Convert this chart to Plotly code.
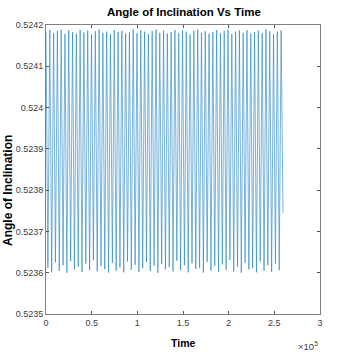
import plotly.graph_objects as go

# ---- data ----
peaks = [0.524184, 0.524188, 0.524180, 0.524186, 0.524189, 0.524178, 0.524187, 0.524183,
         0.524179, 0.524188, 0.524182, 0.524186, 0.524177, 0.524185, 0.524189, 0.524181,
         0.524184, 0.524178, 0.524188, 0.524183, 0.524186, 0.524179, 0.524182, 0.524189,
         0.524180, 0.524187, 0.524184, 0.524178, 0.524185, 0.524189, 0.524181, 0.524186,
         0.524179, 0.524183, 0.524188, 0.524180, 0.524187, 0.524184, 0.524177, 0.524186,
         0.524189, 0.524181, 0.524185, 0.524179, 0.524183, 0.524188, 0.524180, 0.524186,
         0.524189, 0.524178, 0.524184, 0.524187, 0.524181, 0.524188, 0.524179, 0.524183,
         0.524186, 0.524180, 0.524189, 0.524185, 0.524178, 0.524184, 0.524187]
troughs = [0.523612, 0.523601, 0.523625, 0.523605, 0.523618, 0.523600, 0.523628, 0.523608,
           0.523615, 0.523602, 0.523622, 0.523606, 0.523630, 0.523603, 0.523616, 0.523609,
           0.523600, 0.523624, 0.523605, 0.523613, 0.523601, 0.523627, 0.523607, 0.523619,
           0.523602, 0.523611, 0.523626, 0.523604, 0.523617, 0.523600, 0.523621, 0.523608,
           0.523614, 0.523603, 0.523629, 0.523606, 0.523618, 0.523601, 0.523623, 0.523609,
           0.523612, 0.523600, 0.523626, 0.523605, 0.523616, 0.523602, 0.523620, 0.523607,
           0.523631, 0.523603, 0.523614, 0.523600, 0.523624, 0.523608, 0.523611, 0.523601,
           0.523627, 0.523605, 0.523618, 0.523602, 0.523622, 0.523606]
end_value = 0.523745
t_end = 2.595e5

y_ticks = [0.5235, 0.5236, 0.5237, 0.5238, 0.5239, 0.524, 0.5241, 0.5242]
y_tick_labels = ["0.5235", "0.5236", "0.5237", "0.5238", "0.5239", "0.524", "0.5241", "0.5242"]
x_ticks = [0, 0.5e5, 1e5, 1.5e5, 2e5, 2.5e5, 3e5]
x_tick_labels = ["0", "0.5", "1", "1.5", "2", "2.5", "3"]

# build the sequence of extrema: peak, trough, peak, ..., peak, end value
values = []
for i, p in enumerate(peaks):
    values.append(p)
    if i < len(troughs):
        values.append(troughs[i])
values.append(end_value)
n = len(values)
step = t_end / (n - 1)
times = [i * step for i in range(n)]

font = "Liberation Sans, Arial, Helvetica, sans-serif"
tick_col = "#404040"

fig = go.Figure()
fig.add_trace(go.Scatter(x=times, y=values, mode="lines",
                         line=dict(color="#0072BD", width=0.6), opacity=0.9, showlegend=False))

axis_common = dict(ticks="inside", ticklen=3, tickcolor="#555555",
                   showline=True, linecolor="#808080", linewidth=1, mirror="ticks",
                   showgrid=False, zeroline=False, automargin=False,
                   tickfont=dict(size=9, color=tick_col, family=font))

fig.update_layout(
    width=354, height=354,
    margin=dict(l=46, r=34, t=25, b=40),
    paper_bgcolor="white", plot_bgcolor="white",
    font=dict(family=font, size=9, color=tick_col),
    xaxis=dict(range=[0, 3e5], tickvals=x_ticks, ticktext=x_tick_labels, **axis_common),
    yaxis=dict(range=[0.5235, 0.5242], tickvals=y_ticks, ticktext=y_tick_labels, **axis_common),
)
# title
fig.add_annotation(text="<b>Angle of Inclination Vs Time</b>", xref="paper", yref="paper",
                   x=0.505, y=1 + 13 / 289, xanchor="center", yanchor="middle", showarrow=False,
                   font=dict(size=11.5, color="black", family=font))
# x label
fig.add_annotation(text="<b>Time</b>", xref="paper", yref="paper",
                   x=0.5, y=-29 / 289, xanchor="center", yanchor="middle", showarrow=False,
                   font=dict(size=10.5, color="black", family=font))
# y label
fig.add_annotation(text="<b>Angle of Inclination</b>", xref="paper", yref="paper",
                   x=-38 / 274, y=(314 - 191) / 289, xanchor="center", yanchor="middle",
                   textangle=-90, showarrow=False,
                   font=dict(size=12, color="black", family=font))
# exponent
fig.add_annotation(text="×10<sup>5</sup>", xref="paper", yref="paper", x=1.0, y=-32 / 289,
                   xanchor="right", yanchor="middle", showarrow=False,
                   font=dict(size=9.5, color=tick_col, family=font))

fig.write_html("out.html", config={"displayModeBar": False},
               post_script="document.body.style.margin='0';document.body.style.padding='0';")
